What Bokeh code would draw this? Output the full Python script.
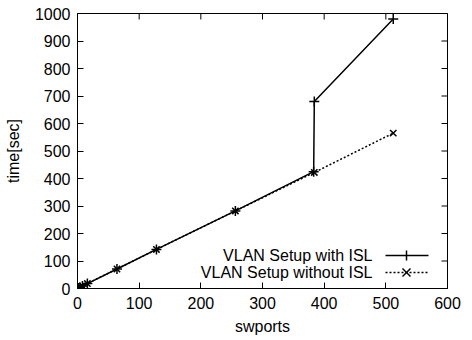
import math
from bokeh.plotting import figure
from bokeh.models import Range1d, FixedTicker, Label, Arrow
from bokeh.embed import file_html
from bokeh.resources import INLINE

# data
x_isl = [1, 2, 4, 8, 16, 64, 128, 256, 383, 384, 512]
t_isl = [1, 2, 4, 9, 18, 71, 142, 282, 425, 680, 980]
x_no = [1, 2, 4, 8, 16, 64, 128, 256, 384, 512]
t_no = [1, 2, 4, 9, 18, 71, 142, 282, 422, 565]
x_ticks = [0, 100, 200, 300, 400, 500, 600]
y_ticks = [0, 100, 200, 300, 400, 500, 600, 700, 800, 900, 1000]
labels = ["VLAN Setup with ISL", "VLAN Setup without ISL"]

FONT = "Liberation Sans"
FS = "16px"
X0, X1, Y0, Y1 = 0, 600, 0, 1000

p = figure(width=472, height=340, output_backend="svg", toolbar_location=None,
           x_range=Range1d(X0, X1), y_range=Range1d(Y0, Y1),
           min_border_left=77, min_border_right=25, min_border_top=13, min_border_bottom=52,
           x_axis_label="swports", y_axis_label="time[sec]")
p.grid.visible = False
p.outline_line_color = "black"
p.outline_line_width = 1
p.background_fill_color = "white"
p.border_fill_color = "white"

for ax in (p.xaxis[0], p.yaxis[0]):
    ax.major_tick_in = 6
    ax.major_tick_out = 0
    ax.minor_tick_in = 0
    ax.minor_tick_out = 0
    ax.axis_line_color = "black"
    ax.major_tick_line_color = "black"
    ax.major_label_text_font = FONT
    ax.major_label_text_font_size = FS
    ax.major_label_text_color = "black"
    ax.axis_label_text_font = FONT
    ax.axis_label_text_font_size = FS
    ax.axis_label_text_font_style = "normal"
    ax.axis_label_text_color = "black"
p.xaxis[0].ticker = FixedTicker(ticks=x_ticks)
p.yaxis[0].ticker = FixedTicker(ticks=y_ticks)
p.xaxis[0].major_label_standoff = 8
p.xaxis[0].axis_label_standoff = 6
p.yaxis[0].major_label_standoff = 7
p.yaxis[0].axis_label_standoff = 10

# mirrored inward ticks on top and right (half of each dash is clipped by the frame)
p.scatter(x_ticks, [Y1] * len(x_ticks), marker="dash", size=12, angle=math.pi / 2,
          line_color="black", line_width=1)
p.scatter([X1] * len(y_ticks), y_ticks, marker="dash", size=12,
          line_color="black", line_width=1)

p.line(x_isl, t_isl, line_color="black", line_width=1.5)
p.scatter(x_isl, t_isl, marker="cross", size=10, line_color="black", line_width=1.5)
p.line(x_no, t_no, line_color="black", line_width=1.5, line_dash="2 2")
p.scatter(x_no, t_no, marker="x", size=9, line_color="black", line_width=1.5)

# manual gnuplot-style legend (screen units, relative to frame)
rows = [(85, "solid"), (68, "2 2")]
for (yy, dash), lab in zip(rows, labels):
    p.add_layout(Label(x=372 - 77, y=yy - 52, x_units="screen", y_units="screen",
                       text=lab, text_align="right", text_baseline="middle",
                       text_font=FONT, text_font_size=FS, text_color="black"))
    p.add_layout(Arrow(end=None, x_start=385 - 77, y_start=yy - 52, x_end=428 - 77, y_end=yy - 52,
                       start_units="screen", end_units="screen", line_color="black",
                       line_width=1.5, line_dash=dash))
cx = 406 - 77
# '+' marker in legend
p.add_layout(Arrow(end=None, x_start=cx, y_start=85 - 52 - 5, x_end=cx, y_end=85 - 52 + 5,
                   start_units="screen", end_units="screen", line_color="black", line_width=1.5))
# 'x' marker in legend
p.add_layout(Arrow(end=None, x_start=cx - 4, y_start=68 - 52 - 4, x_end=cx + 4, y_end=68 - 52 + 4,
                   start_units="screen", end_units="screen", line_color="black", line_width=1.5))
p.add_layout(Arrow(end=None, x_start=cx - 4, y_start=68 - 52 + 4, x_end=cx + 4, y_end=68 - 52 - 4,
                   start_units="screen", end_units="screen", line_color="black", line_width=1.5))

open("out.html", "w").write(file_html(p, INLINE))
